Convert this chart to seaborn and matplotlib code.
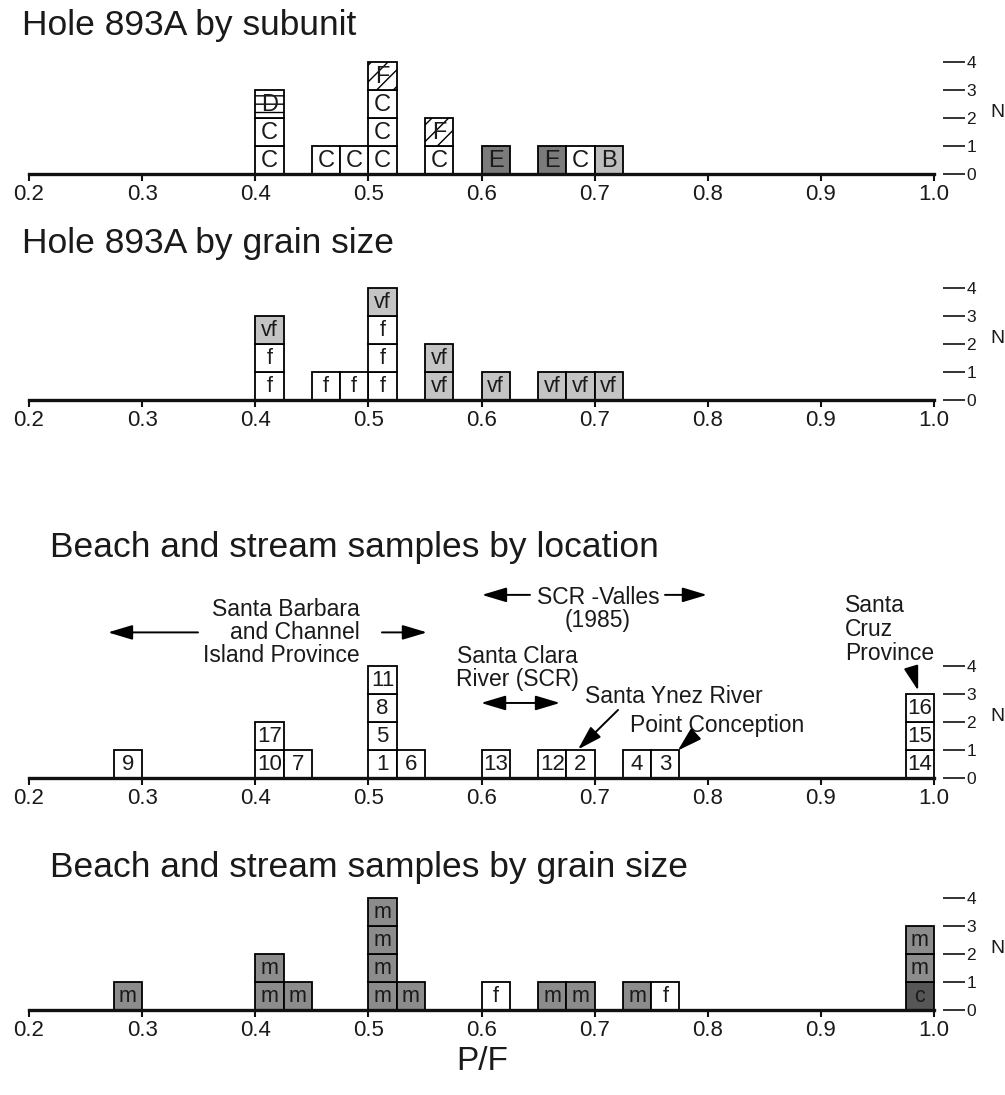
import numpy as np
import pandas as pd
import matplotlib
matplotlib.use('Agg')
import matplotlib.pyplot as plt
import seaborn as sns

# ---------------- data ----------------
# Hole 893A by subunit (P/F bin centre, label)
sub_pf = [0.4125, 0.4125, 0.4125, 0.4625, 0.4875, 0.5125, 0.5125, 0.5125, 0.5125,
          0.5625, 0.5625, 0.6125, 0.6625, 0.6875, 0.7125]
sub_lab = ['C', 'C', 'D', 'C', 'C', 'C', 'C', 'C', 'F', 'C', 'F', 'E', 'E', 'C', 'B']

# Hole 893A by grain size
grain_pf = [0.4125, 0.4125, 0.4125, 0.4625, 0.4875, 0.5125, 0.5125, 0.5125, 0.5125,
            0.5625, 0.5625, 0.6125, 0.6625, 0.6875, 0.7125]
grain_lab = ['f', 'f', 'vf', 'f', 'f', 'f', 'f', 'f', 'vf', 'vf', 'vf', 'vf', 'vf', 'vf', 'vf']

# Beach and stream samples by location
loc_pf = [0.2875, 0.4125, 0.4125, 0.4375, 0.5125, 0.5125, 0.5125, 0.5125, 0.5375,
          0.6125, 0.6625, 0.6875, 0.7375, 0.7625, 0.9875, 0.9875, 0.9875]
loc_lab = ['9', '10', '17', '7', '1', '5', '8', '11', '6', '13', '12', '2', '4', '3',
           '14', '15', '16']

# Beach and stream samples by grain size
bgrain_pf = [0.2875, 0.4125, 0.4125, 0.4375, 0.5125, 0.5125, 0.5125, 0.5125, 0.5375,
             0.6125, 0.6625, 0.6875, 0.7375, 0.7625, 0.9875, 0.9875, 0.9875]
bgrain_lab = ['m', 'm', 'm', 'm', 'm', 'm', 'm', 'm', 'm', 'f', 'm', 'm', 'm', 'f',
              'c', 'm', 'm']

xtick_vals = [0.2, 0.3, 0.4, 0.5, 0.6, 0.7, 0.8, 0.9, 1.0]
xtick_labels = ['0.2', '0.3', '0.4', '0.5', '0.6', '0.7', '0.8', '0.9', '1.0']
ytick_vals = [0, 1, 2, 3, 4]
ytick_labels = ['0', '1', '2', '3', '4']

titles = ['Hole 893A by subunit', 'Hole 893A by grain size',
          'Beach and stream samples by location',
          'Beach and stream samples by grain size']

fill_colors = {'C': 'white', 'D': 'white', 'F': 'white', 'E': '#7b7b7b', 'B': '#bdbdbd',
               'f': 'white', 'vf': '#c4c4c4', 'm': '#8c8c8c', 'c': '#565656'}
hatches = {'D': '--', 'F': '//'}

# ---------------- layout ----------------
W, H = 1005, 1095
BINW = 0.025
sns.set_theme(style='white')
plt.rcParams['font.family'] = ['Liberation Sans', 'DejaVu Sans']
plt.rcParams['hatch.linewidth'] = 1.0

fig = plt.figure(figsize=(W / 100, H / 100), dpi=100)

PX = 1131.25      # pixels per P/F unit
X0PX = 29         # pixel of P/F = 0.2
UNIT = 28         # pixels per count
AX_RIGHT = 943
YLO, YHI = -1.5, 5.0
TXT = '#1a1a1a'


def make_ax(baseline_px):
    bottom_px = baseline_px - YLO * UNIT
    height_px = (YHI - YLO) * UNIT
    ax = fig.add_axes([0, (H - bottom_px) / H, AX_RIGHT / W, height_px / H])
    ax.patch.set_visible(False)
    return ax


def draw_panel(ax, pf, labels, fs):
    df = pd.DataFrame({'pf': pf, 'lab': labels})
    df['bin'] = np.floor((df['pf'] - 0.2) / BINW + 1e-9).astype(int)
    df['level'] = df.groupby('bin').cumcount()
    sns.histplot(data=df, x='pf', hue='level', multiple='stack', binwidth=BINW,
                 binrange=(0.2, 1.0), ax=ax, legend=False, alpha=1,
                 linewidth=1.3, edgecolor='black')
    lookup = {(b, l): lab for b, l, lab in zip(df['bin'], df['level'], df['lab'])}
    for p in ax.patches:
        h = p.get_height()
        if h <= 0:
            p.set_visible(False)
            continue
        b = int(round((p.get_x() - 0.2) / BINW))
        l = int(round(p.get_y()))
        lab = lookup.get((b, l))
        if lab is None:
            continue
        p.set_facecolor(fill_colors.get(lab, 'white'))
        p.set_edgecolor('black')
        p.set_linewidth(1.3)
        if lab in hatches:
            p.set_hatch(hatches[lab])
        ax.text(p.get_x() + p.get_width() / 2, p.get_y() + 0.47, lab,
                ha='center', va='center', fontsize=fs, color=TXT, zorder=5)

    ax.set_xlim(0.2 - X0PX / PX, 0.2 + (AX_RIGHT - X0PX) / PX)
    ax.set_ylim(YLO, YHI)
    ax.set_xlabel('')
    ax.set_ylabel('')
    for s in ['top', 'left', 'right']:
        ax.spines[s].set_visible(False)
    ax.spines['bottom'].set_position(('data', 0))
    ax.spines['bottom'].set_bounds(0.2, 1.0)
    ax.spines['bottom'].set_linewidth(2.4)
    ax.spines['bottom'].set_color('#111111')
    ax.spines['bottom'].set_zorder(4)
    ax.set_xticks(xtick_vals, xtick_labels)
    ax.yaxis.tick_right()
    ax.set_yticks(ytick_vals, ytick_labels)
    ax.tick_params(axis='x', bottom=True, direction='out', length=5, width=1.5,
                   labelsize=16, pad=2, color='#111111', labelcolor=TXT)
    ax.tick_params(axis='y', left=False, right=True, direction='out', length=16,
                   width=1.2, labelsize=12.5, pad=1, color='#111111', labelcolor=TXT)
    ax.text(1.05, 2.2, 'N', transform=ax.get_yaxis_transform(), fontsize=14,
            va='center', ha='left', color=TXT)
    ax.grid(False)


baselines = [174, 400, 778, 1010]
panels = [(sub_pf, sub_lab, 17), (grain_pf, grain_lab, 15.5),
          (loc_pf, loc_lab, 16), (bgrain_pf, bgrain_lab, 15.5)]
axes = []
for yb, (pf, lab, fs) in zip(baselines, panels):
    ax = make_ax(yb)
    draw_panel(ax, pf, lab, fs)
    axes.append(ax)

# titles
title_pos = [(22, 26), (22, 243), (50, 547), (50, 867)]
for (tx, ty), t in zip(title_pos, titles):
    fig.text(tx / W, 1 - ty / H, t, fontsize=25.5, ha='left', va='center', color=TXT)

fig.text(482 / W, 1 - 1062 / H, 'P/F', fontsize=24, ha='center', va='center', color=TXT)

# ---------------- annotations (location panel) ----------------
ax3 = axes[2]
afs = 16.5
arrow_kw = dict(arrowstyle='-|>,head_length=0.6,head_width=0.18', color='black',
                lw=1.4, mutation_scale=25, shrinkA=0, shrinkB=0)
dbl_kw = dict(arrowstyle='<|-|>,head_length=0.6,head_width=0.18', color='black',
              lw=1.4, mutation_scale=25, shrinkA=0, shrinkB=0)

ax3.text(0.4926, 5.2, 'Santa Barbara\nand Channel\nIsland Province', ha='right',
         va='center', fontsize=afs, linespacing=1.0, color=TXT)
ax3.annotate('', xy=(0.2698, 5.2), xytext=(0.3494, 5.2), arrowprops=arrow_kw,
             annotation_clip=False)
ax3.annotate('', xy=(0.5518, 5.2), xytext=(0.512, 5.2), arrowprops=arrow_kw,
             annotation_clip=False)

ax3.text(0.703, 6.05, 'SCR -Valles\n(1985)', ha='center', va='center', fontsize=afs,
         linespacing=1.0, color=TXT)
ax3.annotate('', xy=(0.6004, 6.54), xytext=(0.6429, 6.54), arrowprops=arrow_kw,
             annotation_clip=False)
ax3.annotate('', xy=(0.7993, 6.54), xytext=(0.7622, 6.54), arrowprops=arrow_kw,
             annotation_clip=False)

ax3.text(0.6314, 3.93, 'Santa Clara\nRiver (SCR)', ha='center', va='center',
         fontsize=afs, linespacing=1.0, color=TXT)
ax3.annotate('', xy=(0.5996, 2.68), xytext=(0.6694, 2.68), arrowprops=dbl_kw,
             annotation_clip=False)

ax3.text(0.6915, 2.9, 'Santa Ynez River', ha='left', va='center', fontsize=afs,
         color=TXT)
ax3.annotate('', xy=(0.6853, 1.02), xytext=(0.7207, 2.43), arrowprops=arrow_kw,
             annotation_clip=False)

ax3.text(0.7313, 1.89, 'Point Conception', ha='left', va='center', fontsize=afs,
         color=TXT)
ax3.annotate('', xy=(0.7735, 0.98), xytext=(0.7875, 1.5), arrowprops=arrow_kw,
             annotation_clip=False)

ax3.text(0.9213, 5.3, 'Santa\nCruz\nProvince', ha='left', va='center', fontsize=afs,
         linespacing=1.05, color=TXT)
ax3.annotate('', xy=(0.986, 3.12), xytext=(0.9806, 3.85), arrowprops=arrow_kw,
             annotation_clip=False)

fig.savefig('out.png', dpi=100)
